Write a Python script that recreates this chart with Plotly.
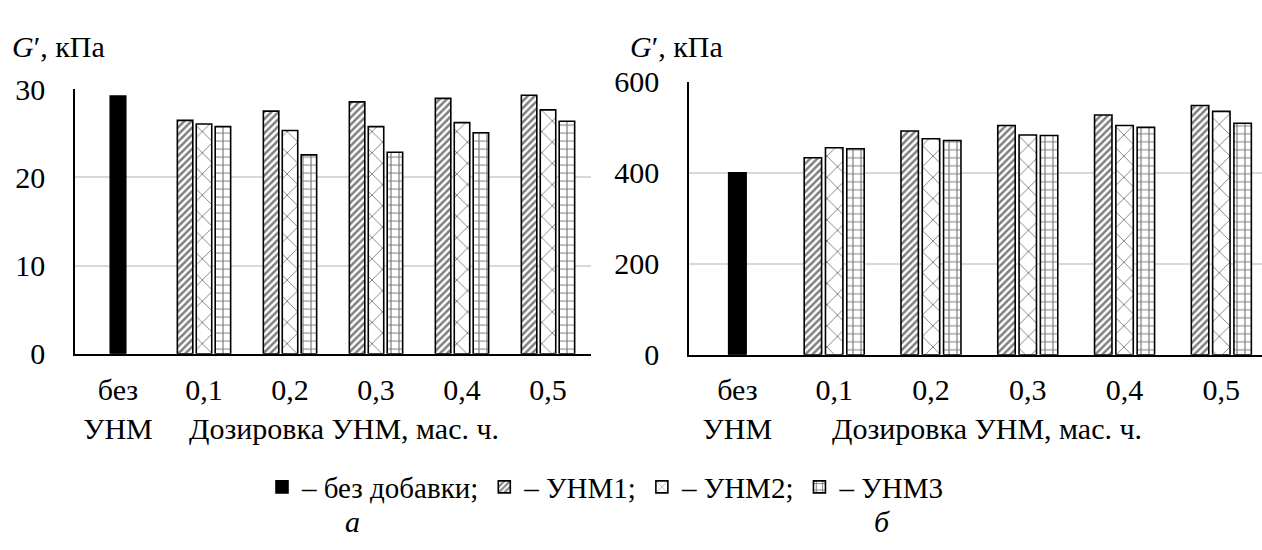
import plotly.graph_objects as go

categories = ["без<br>УНМ", "0,1", "0,2", "0,3", "0,4", "0,5"]
series_names = ["– без добавки;", "– УНМ1;", "– УНМ2;", "– УНМ3"]

# panel a (kPa)
a_base = [29.2]
a_unm1 = [26.45, 27.5, 28.55, 28.95, 29.3]
a_unm2 = [26.05, 25.3, 25.75, 26.2, 27.65]
a_unm3 = [25.75, 22.55, 22.85, 25.05, 26.35]

# panel b (kPa)
b_base = [400]
b_unm1 = [433, 492, 504, 527, 548]
b_unm2 = [455, 475, 483, 504, 535]
b_unm3 = [453, 471, 482, 500, 509]

a_ticks = [0, 10, 20, 30]
b_ticks = [0, 200, 400, 600]

FONT = "Liberation Serif"
W, H = 1262, 550

xs = list(range(len(categories)))
base_x = xs[:1]
grp_x = xs[1:]

BW = 0.18
styles = [
    dict(color="black", pattern=None, shift=0.0),
    dict(color="white", pattern=dict(shape="/", fgcolor="black", bgcolor="white", size=5, solidity=0.5), shift=-0.22),
    dict(color="white", pattern=dict(shape="x", fgcolor="black", bgcolor="white", size=15, solidity=0.12), shift=0.0),
    dict(color="white", pattern=dict(shape="+", fgcolor="black", bgcolor="white", size=8, solidity=0.28), shift=0.22),
]

fig = go.Figure()

def add_panel(vals, xa, ya, showlegend):
    for i, (v, st) in enumerate(zip(vals, styles)):
        x = base_x if i == 0 else grp_x
        marker = dict(color=st["color"], line=dict(color="black", width=1.6))
        if st["pattern"]:
            marker["pattern"] = st["pattern"]
        fig.add_trace(go.Bar(
            x=x, y=v, name=series_names[i], marker=marker,
            width=BW, offset=st["shift"] - BW / 2,
            xaxis=xa, yaxis=ya, showlegend=showlegend, legendgroup=str(i),
        ))

add_panel([a_base, a_unm1, a_unm2, a_unm3], "x", "y", True)
add_panel([b_base, b_unm1, b_unm2, b_unm3], "x2", "y2", False)

def ydom(top, bottom):
    return [1 - bottom / H, 1 - top / H]

common_x = dict(
    tickmode="array", tickvals=xs, ticktext=categories, showgrid=False,
    showline=True, linecolor="black", linewidth=1.5, ticks="",
    tickfont=dict(family=FONT, size=30, color="black"), ticklabelstandoff=8,
    fixedrange=True,
)
common_y = dict(
    showgrid=True, gridcolor="#d9d9d9", gridwidth=1.5, showline=True,
    linecolor="black", linewidth=1.5, ticks="", zeroline=False,
    tickfont=dict(family=FONT, size=30, color="black"), ticklabelstandoff=22,
    tickmode="array",
)

fig.update_layout(
    width=W, height=H, margin=dict(l=0, r=0, t=0, b=0),
    paper_bgcolor="white", plot_bgcolor="white", barmode="overlay",
    font=dict(family=FONT, color="black"),
    xaxis=dict(domain=[75 / W, 591 / W], range=[-0.5, 5.5], anchor="y", **common_x),
    yaxis=dict(domain=ydom(76.7, 358.3), range=[0, 30], tickvals=a_ticks, anchor="x", **common_y),
    xaxis2=dict(domain=[689 / W, 1.0], range=[-0.5, 5.42], anchor="y2", **common_x),
    yaxis2=dict(domain=ydom(69, 359.3), range=[0, 600], tickvals=b_ticks, anchor="x2", **common_y),
    legend=dict(orientation="h", x=262 / W, xanchor="left", y=1 - 500 / H, yanchor="middle",
                font=dict(family=FONT, size=29, color="black"), itemwidth=30,
                traceorder="normal", bgcolor="rgba(0,0,0,0)"),
)

ann = [
    dict(text="<i>G</i>′, кПа", x=10 / W, y=1 - 31 / H, xanchor="left"),
    dict(text="<i>G</i>′, кПа", x=628 / W, y=1 - 31 / H, xanchor="left"),
    dict(text="Дозировка УНМ, мас. ч.", x=344 / W, y=1 - 438 / H, xanchor="center"),
    dict(text="Дозировка УНМ, мас. ч.", x=987 / W, y=1 - 438 / H, xanchor="center"),
    dict(text="<i>а</i>", x=352 / W, y=1 - 537 / H, xanchor="center"),
    dict(text="<i>б</i>", x=882 / W, y=1 - 537 / H, xanchor="center"),
]
for a in ann:
    fig.add_annotation(xref="paper", yref="paper", yanchor="middle", showarrow=False,
                       text=a["text"], x=a["x"], y=a["y"], xanchor=a["xanchor"],
                       font=dict(family=FONT, size=30, color="black"))

fig.write_html("out.html")
